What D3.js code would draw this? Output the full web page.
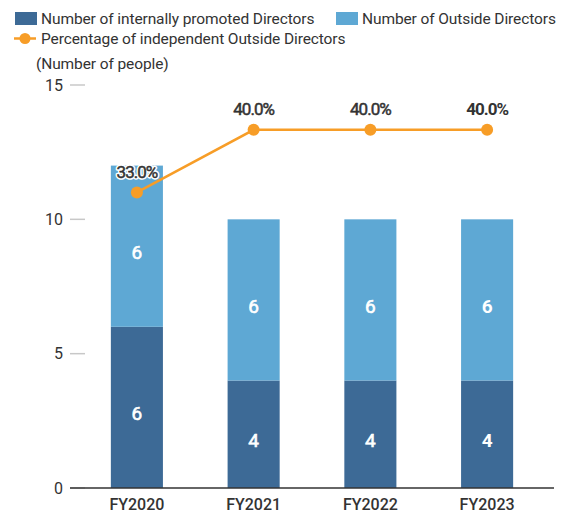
<!DOCTYPE html>
<html><head><meta charset="utf-8">
<script src="https://cdn.jsdelivr.net/npm/d3@7"></script>
<style>
html,body{margin:0;padding:0;background:#fff;}
svg{display:block;font-family:Roboto,"Noto Sans",sans-serif;}
</style></head>
<body><svg id="chart" width="568" height="513"></svg>
<script>
const categories = ["FY2020","FY2021","FY2022","FY2023"];
const internalDirectors = [6,4,4,4];
const outsideDirectors = [6,6,6,6];
const independentPct = [33.0,40.0,40.0,40.0];
const yTicks = [0,5,10,15];
const legendLabels = ["Number of internally promoted Directors","Number of Outside Directors","Percentage of independent Outside Directors"];
const unitLabel = "(Number of people)";

const cDark = "#3d6a96", cLight = "#5ea8d4", cOrange = "#f79d27", cText = "#333";
const svg = d3.select("#chart");

const x = d3.scaleBand().domain(categories).range([70,554]).paddingInner(0.554).paddingOuter(0.35);
const y = d3.scaleLinear().domain([0,15]).range([488,85]);
const yp = d3.scaleLinear().domain([0,45]).range([488,85]);

// y ticks
const yAxis = svg.append("g");
yAxis.selectAll("line").data(yTicks).join("line")
  .attr("x1",70).attr("x2",85).attr("y1",d=>y(d)).attr("y2",d=>y(d))
  .attr("stroke","#c8c8c8").attr("stroke-width",1.5);
yAxis.selectAll("text").data(yTicks).join("text")
  .attr("x",63).attr("y",d=>y(d)).attr("dy","0.36em").attr("text-anchor","end")
  .attr("font-size",16).attr("fill",cText).text(d=>d);

// bars
const last = categories[categories.length-1];
const g = svg.append("g");
function barLabel(c, v, yc){
  const isLast = c===last;
  g.append("text").attr("x",x(c)+x.bandwidth()/2).attr("y",yc+6).attr("dy","0.36em")
    .attr("text-anchor","middle").attr("font-size",19).attr("font-weight",isLast?700:400)
    .attr("fill","#fff").attr("stroke","#fff").attr("stroke-width",isLast?0:0.6).text(v);
}
categories.forEach((c,i)=>{
  const a = internalDirectors[i], b = outsideDirectors[i];
  g.append("rect").attr("x",x(c)).attr("width",x.bandwidth())
    .attr("y",y(a)).attr("height",y(0)-y(a)).attr("fill",cDark);
  g.append("rect").attr("x",x(c)).attr("width",x.bandwidth())
    .attr("y",y(a+b)).attr("height",y(a)-y(a+b)).attr("fill",cLight);
  barLabel(c, a, y(a/2));
  barLabel(c, b, y(a+b/2));
});

// x axis
svg.append("line").attr("x1",70).attr("x2",554).attr("y1",488).attr("y2",488)
  .attr("stroke","#333").attr("stroke-width",1.5);
svg.append("g").selectAll("text").data(categories).join("text")
  .attr("x",d=>x(d)+x.bandwidth()/2).attr("y",504).attr("dy","0.36em")
  .attr("text-anchor","middle").attr("font-size",16).attr("font-weight",500).attr("fill",cText).text(d=>d);

// line
const cx = c=>x(c)+x.bandwidth()/2;
const line = d3.line().x((d,i)=>cx(categories[i])).y(d=>yp(d));
svg.append("path").datum(independentPct).attr("d",line).attr("fill","none")
  .attr("stroke",cOrange).attr("stroke-width",2.5);
svg.append("g").selectAll("circle").data(independentPct).join("circle")
  .attr("cx",(d,i)=>cx(categories[i])).attr("cy",d=>yp(d)).attr("r",6).attr("fill",cOrange);
const pctG = svg.append("g").attr("font-size",17).attr("letter-spacing","-1px").attr("text-anchor","middle");
// halo
pctG.selectAll("text.halo").data(independentPct).join("text").attr("class","halo")
  .attr("x",(d,i)=>cx(categories[i])).attr("y",d=>yp(d)-21).attr("dy","0.36em")
  .attr("font-weight",(d,i)=>categories[i]===last?700:400)
  .attr("fill","#fff").attr("stroke","#fff").attr("stroke-width",3.5).attr("stroke-linejoin","round")
  .text(d=>d.toFixed(1)+"%");
pctG.selectAll("text.lbl").data(independentPct).join("text").attr("class","lbl")
  .attr("x",(d,i)=>cx(categories[i])).attr("y",d=>yp(d)-21).attr("dy","0.36em")
  .attr("font-weight",(d,i)=>categories[i]===last?700:400)
  .attr("fill",cText).attr("stroke",cText).attr("stroke-width",(d,i)=>categories[i]===last?0:0.5)
  .text(d=>d.toFixed(1)+"%");

// legend
const lg = svg.append("g").attr("font-size",15.5).attr("letter-spacing","-0.1px").attr("fill",cText);
lg.append("rect").attr("x",15).attr("y",12).attr("width",22).attr("height",13).attr("fill",cDark);
lg.append("text").attr("x",41).attr("y",18.5).attr("dy","0.36em").text(legendLabels[0]);
lg.append("rect").attr("x",336).attr("y",12).attr("width",22).attr("height",13).attr("fill",cLight);
lg.append("text").attr("x",362).attr("y",18.5).attr("dy","0.36em").text(legendLabels[1]);
lg.append("line").attr("x1",14).attr("x2",36).attr("y1",38.5).attr("y2",38.5).attr("stroke",cOrange).attr("stroke-width",2.5);
lg.append("circle").attr("cx",25).attr("cy",38.5).attr("r",5.5).attr("fill",cOrange);
lg.append("text").attr("x",41).attr("y",38.5).attr("dy","0.36em").text(legendLabels[2]);
lg.append("text").attr("x",36).attr("y",63).attr("dy","0.36em").text(unitLabel);
</script></body></html>
